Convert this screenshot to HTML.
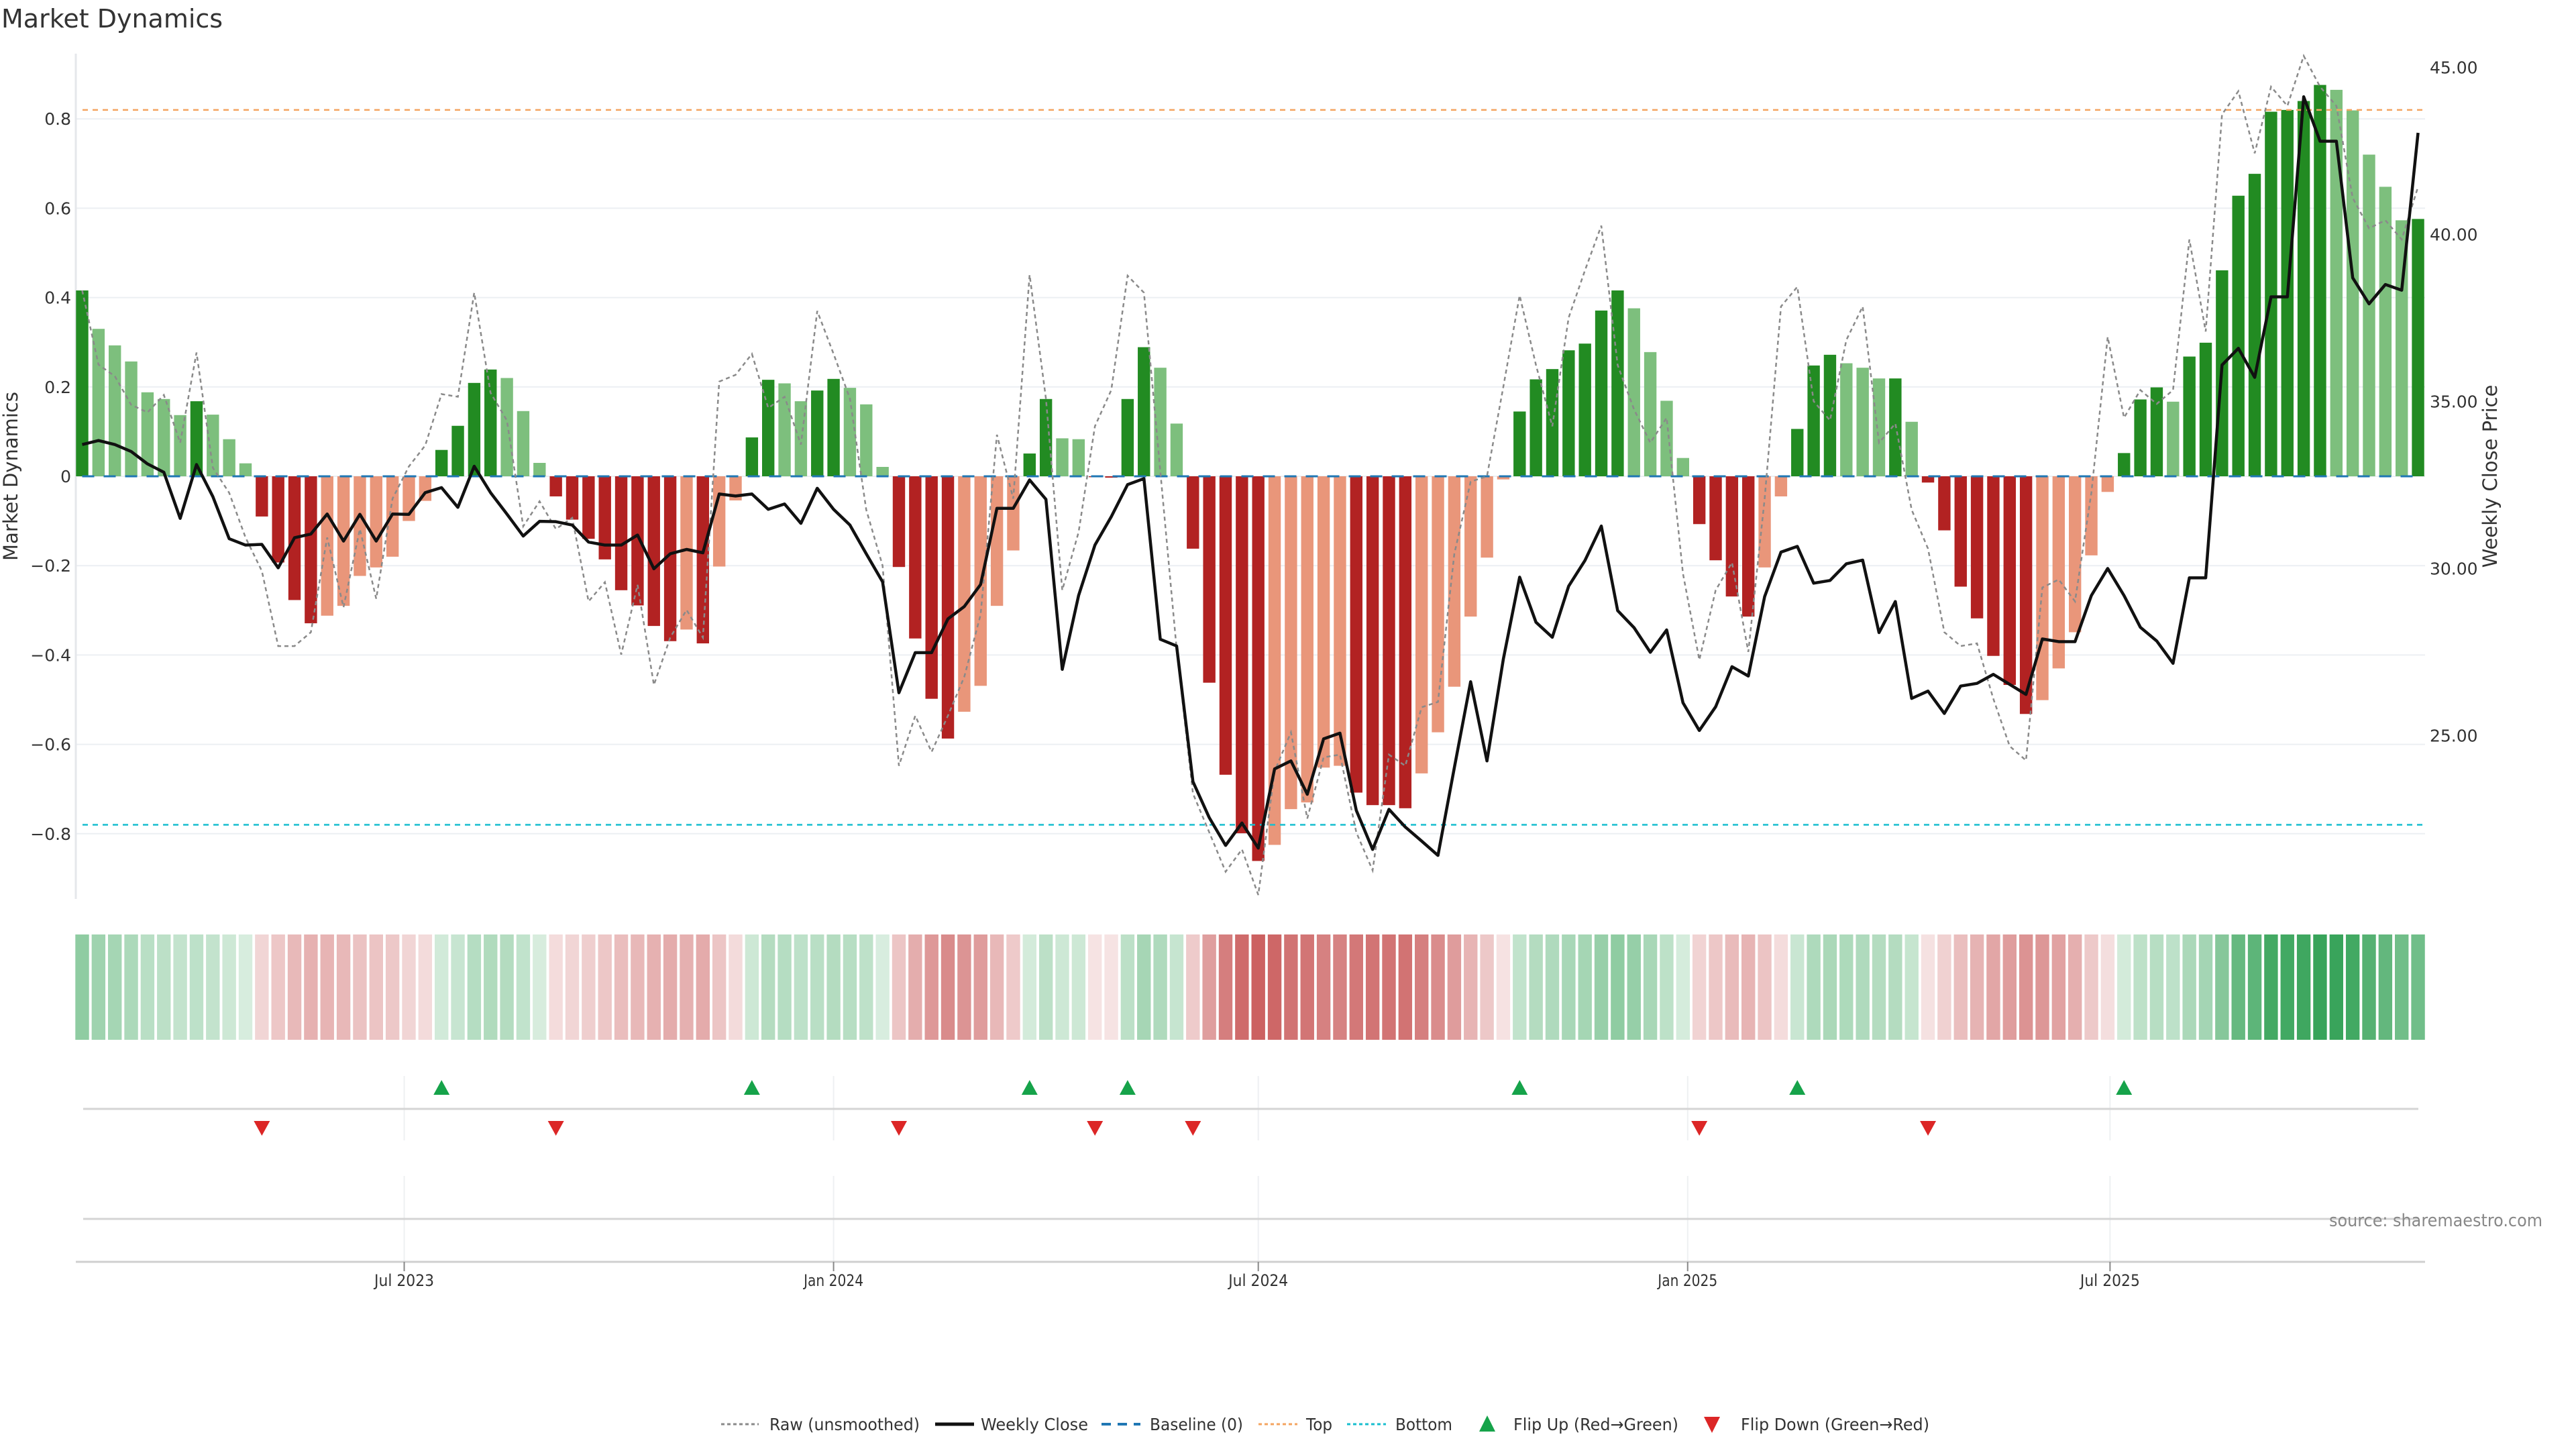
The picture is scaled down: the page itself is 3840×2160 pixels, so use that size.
<!DOCTYPE html>
<html><head><meta charset="utf-8"><style>
html,body{margin:0;padding:0;background:#fff;}
svg{display:block;font-family:"DejaVu Sans","Liberation Sans",sans-serif;}
</style></head><body>
<svg id="chart" width="3840" height="2160" viewBox="0 0 3840 2160" xmlns="http://www.w3.org/2000/svg">
<text x="2" y="41" font-size="38" fill="#333">Market Dynamics</text>
<g id="grid"></g><g id="bars"></g><g id="lines"></g><g id="heat"></g><g id="flips"></g><g id="axes"></g><g id="legend"></g>
<text x="3472" y="1828" font-size="26" fill="#888" textLength="318" lengthAdjust="spacingAndGlyphs">source: sharemaestro.com</text>
</svg>
<script>
const momentum=[0.416,0.33,0.293,0.257,0.188,0.173,0.137,0.168,0.138,0.083,0.029,-0.09,-0.193,-0.277,-0.329,-0.312,-0.29,-0.223,-0.204,-0.18,-0.10,-0.055,0.059,0.113,0.209,0.239,0.22,0.146,0.03,-0.045,-0.097,-0.14,-0.186,-0.255,-0.289,-0.335,-0.369,-0.343,-0.374,-0.202,-0.054,0.087,0.216,0.208,0.168,0.192,0.218,0.198,0.161,0.021,-0.203,-0.363,-0.498,-0.587,-0.527,-0.469,-0.29,-0.166,0.051,0.173,0.085,0.083,-0.002,-0.003,0.173,0.289,0.243,0.118,-0.162,-0.462,-0.668,-0.799,-0.861,-0.825,-0.745,-0.73,-0.652,-0.648,-0.708,-0.736,-0.736,-0.743,-0.665,-0.573,-0.471,-0.314,-0.182,-0.007,0.145,0.217,0.24,0.282,0.297,0.371,0.416,0.376,0.278,0.169,0.041,-0.107,-0.188,-0.269,-0.314,-0.204,-0.045,0.106,0.248,0.272,0.253,0.243,0.219,0.219,0.122,-0.014,-0.121,-0.247,-0.318,-0.402,-0.467,-0.532,-0.501,-0.43,-0.349,-0.177,-0.035,0.052,0.172,0.199,0.167,0.268,0.299,0.461,0.628,0.677,0.816,0.82,0.84,0.876,0.865,0.819,0.72,0.648,0.573,0.576];
const rawValues=[0.416,0.25,0.224,0.16,0.143,0.182,0.075,0.277,0.019,-0.037,-0.137,-0.212,-0.38,-0.38,-0.349,-0.137,-0.293,-0.118,-0.274,-0.05,0.022,0.069,0.184,0.178,0.411,0.187,0.125,-0.112,-0.056,-0.118,-0.093,-0.28,-0.237,-0.399,-0.243,-0.467,-0.361,-0.299,-0.361,0.212,0.227,0.274,0.153,0.178,0.071,0.37,0.274,0.174,-0.075,-0.2,-0.648,-0.536,-0.617,-0.536,-0.449,-0.31,0.093,-0.05,0.451,0.174,-0.255,-0.125,0.112,0.193,0.449,0.411,0.012,-0.386,-0.71,-0.797,-0.885,-0.835,-0.937,-0.66,-0.573,-0.766,-0.629,-0.623,-0.797,-0.882,-0.623,-0.648,-0.517,-0.505,-0.174,-0.012,0,0.2,0.405,0.249,0.112,0.355,0.461,0.561,0.249,0.15,0.075,0.131,-0.218,-0.411,-0.255,-0.193,-0.393,-0.05,0.38,0.424,0.168,0.125,0.305,0.38,0.075,0.118,-0.075,-0.162,-0.349,-0.38,-0.374,-0.498,-0.604,-0.636,-0.249,-0.231,-0.28,-0.037,0.312,0.131,0.193,0.162,0.193,0.53,0.324,0.81,0.862,0.723,0.872,0.829,0.941,0.872,0.829,0.623,0.555,0.573,0.53,0.648];
const weeklyClose=[33.71,33.83,33.71,33.5,33.13,32.88,31.5,33.11,32.15,30.89,30.7,30.72,30.02,30.92,31.03,31.63,30.82,31.62,30.82,31.63,31.62,32.27,32.42,31.83,33.06,32.27,31.63,30.97,31.41,31.4,31.3,30.79,30.7,30.7,31.0,29.99,30.44,30.57,30.47,32.23,32.17,32.23,31.77,31.93,31.35,32.4,31.77,31.3,30.44,29.6,26.28,27.48,27.48,28.49,28.86,29.52,31.8,31.8,32.65,32.07,26.98,29.19,30.7,31.55,32.51,32.69,27.88,27.68,23.62,22.54,21.71,22.38,21.63,24.0,24.24,23.24,24.9,25.07,22.76,21.59,22.79,22.26,21.84,21.41,24.03,26.61,24.24,27.28,29.74,28.39,27.94,29.47,30.24,31.27,28.74,28.23,27.49,28.16,25.98,25.15,25.86,27.06,26.78,29.16,30.49,30.66,29.56,29.64,30.14,30.25,28.08,29.01,26.11,26.33,25.66,26.48,26.56,26.83,26.53,26.23,27.89,27.81,27.81,29.19,30.0,29.19,28.24,27.83,27.16,29.72,29.72,36.09,36.59,35.72,38.13,38.13,44.12,42.79,42.79,38.7,37.92,38.5,38.33,43.04];
const leftTicks=[-0.8,-0.6,-0.4,-0.2,0,0.2,0.4,0.6,0.8];
const leftTickLabels=["−0.8","−0.6","−0.4","−0.2","0","0.2","0.4","0.6","0.8"];
const rightTicks=[25,30,35,40,45];
const rightTickLabels=["25.00","30.00","35.00","40.00","45.00"];
const dateTicks=["2023-07-01","2024-01-01","2024-07-01","2025-01-01","2025-07-01"];
const dateTickLabels=["Jul 2023","Jan 2024","Jul 2024","Jan 2025","Jul 2025"];
const startDate="2023-02-13";
const topLevel=0.82, bottomLevel=-0.78;

const NS="http://www.w3.org/2000/svg";
const PL=113,PR=3615,X0=122.5,STEP=24.35;
function xi(i){return X0+i*STEP;}
function xDate(s){const d=(Date.parse(s)-Date.parse(startDate))/86400000;return X0+d/7*STEP;}
function yL(v){return 710-v*666;}
function yR(p){return 100.4+(45-p)*49.8;}
function mk(tag,attrs,parent){const e=document.createElementNS(NS,tag);for(const k in attrs)e.setAttribute(k,attrs[k]);parent.appendChild(e);return e;}
const G=id=>document.getElementById(id);

const grid=G('grid');
leftTicks.forEach((t,k)=>{
  const l=mk('line',{x1:PL,x2:PR,y1:yL(t),y2:yL(t),stroke:'#eceff3','stroke-width':2},grid);
  
  
  const tx=mk('text',{x:106,y:yL(t)+9,'text-anchor':'end','font-size':25,fill:'#333'},grid);
  tx.textContent=leftTickLabels[k];
  
  
});
rightTicks.forEach((t,k)=>{
  const tx=mk('text',{x:3622,y:yR(t)+9,'font-size':25,fill:'#333'},grid);
  tx.textContent=rightTickLabels[k];
  
  
});
const sp=mk('line',{x1:PL,x2:PL,y1:80,y2:1340,stroke:'#e5e7eb','stroke-width':3},grid);


const yl=mk('text',{x:0,y:0,'font-size':29,fill:'#333','text-anchor':'middle',transform:'translate(26,710) rotate(-90)'},grid);
yl.textContent='Market Dynamics';


const yr=mk('text',{x:0,y:0,'font-size':29,fill:'#333','text-anchor':'middle',transform:'translate(3722,710) rotate(-90)'},grid);
yr.textContent='Weekly Close Price';



const bars=G('bars');
momentum.forEach((v,i)=>{
  const prev=i>0?momentum[i-1]:0;
  const strong=i===0||Math.sign(v)!==Math.sign(prev)||Math.abs(v)>=Math.abs(prev);
  const fill=v>=0?(strong?'#228b22':'#7dbf7d'):(strong?'#b22222':'#e9967a');
  const y0=yL(0),y1=yL(v);
  const r=mk('rect',{x:xi(i)-9.2,width:18.4,y:Math.min(y0,y1),height:Math.max(Math.abs(y1-y0),0.5),fill:fill},bars);
  
  
});

const lines=G('lines');
const bl=mk('line',{x1:X0,x2:xi(momentum.length-1),y1:yL(0),y2:yL(0),stroke:'#1f77b4','stroke-width':3,'stroke-dasharray':'18 14'},lines);


const tl=mk('line',{x1:PL+10,x2:PR,y1:yL(topLevel),y2:yL(topLevel),stroke:'#f4a460','stroke-width':2.5,'stroke-dasharray':'8 7'},lines);


const btl=mk('line',{x1:PL+10,x2:PR,y1:yL(bottomLevel),y2:yL(bottomLevel),stroke:'#17becf','stroke-width':2.5,'stroke-dasharray':'8 7'},lines);


const rp=mk('path',{d:rawValues.map((v,i)=>(i?'L':'M')+xi(i)+' '+yL(v)).join(''),fill:'none',stroke:'#8a8a8a','stroke-width':2.5,'stroke-dasharray':'6 5'},lines);


const cp=mk('path',{d:weeklyClose.map((v,i)=>(i?'L':'M')+xi(i)+' '+yR(v)).join(''),fill:'none',stroke:'#111','stroke-width':4.5,'stroke-linejoin':'round'},lines);



const heat=G('heat');
const maxAbs=Math.max(...momentum.map(Math.abs));
momentum.forEach((v,i)=>{
  const a=0.15+0.72*Math.abs(v)/maxAbs;
  const fill=v>=0?`rgba(26,150,65,${a})`:`rgba(190,55,55,${a*0.92})`;
  const r=mk('rect',{x:xi(i)-10.2,width:20.4,y:1393,height:157,fill:fill},heat);
  
  
});

const flips=G('flips');
dateTicks.forEach(d=>{
  const x=xDate(d);
  const g1=mk('line',{x1:x,x2:x,y1:1604,y2:1700,stroke:'#eef0f2','stroke-width':2},flips);
  
  
  const g2=mk('line',{x1:x,x2:x,y1:1753,y2:1881,stroke:'#eef0f2','stroke-width':2},flips);
  
  
});
const fl=mk('line',{x1:124,x2:3605,y1:1653,y2:1653,stroke:'#d4d4d4','stroke-width':3},flips);


const fl2=mk('line',{x1:124,x2:3605,y1:1817,y2:1817,stroke:'#d4d4d4','stroke-width':3},flips);


momentum.forEach((v,i)=>{
  if(i===0)return;
  const p=momentum[i-1];
  const x=xi(i);
  if(p<0&&v>=0){
    const t=mk('path',{d:`M${x-12} 1632L${x+12} 1632L${x} 1610Z`,fill:'#16a34a'},flips);
    
    
  } else if(p>=0&&v<0){
    const t=mk('path',{d:`M${x-12} 1671L${x+12} 1671L${x} 1693Z`,fill:'#dc2626'},flips);
    
    
  }
});

const axes=G('axes');
const ax=mk('line',{x1:PL,x2:PR,y1:1881,y2:1881,stroke:'#cfcfcf','stroke-width':3},axes);


dateTicks.forEach((d,k)=>{
  const x=xDate(d);
  const tk=mk('line',{x1:x,x2:x,y1:1881,y2:1895,stroke:'#888','stroke-width':2},axes);
  
  
  const tx=mk('text',{x:x,y:1917,'text-anchor':'middle','font-size':24,fill:'#333',textLength:89,lengthAdjust:'spacingAndGlyphs'},axes);
  tx.textContent=dateTickLabels[k];
  
  
});

const lg=G('legend');
const LY=2123;
function ltext(x,w,s){const t=mk('text',{x:x,y:LY+9,'font-size':25,fill:'#333',textLength:w,lengthAdjust:'spacingAndGlyphs'},lg);t.textContent=s;}
function lline(x1,x2,attrs,name){const l=mk('line',Object.assign({x1:x1,x2:x2,y1:LY,y2:LY},attrs),lg);}
lline(1075,1131,{stroke:'#8a8a8a','stroke-width':3,'stroke-dasharray':'5 4'},'legend-raw');
ltext(1147,224,'Raw (unsmoothed)');
lline(1394,1452,{stroke:'#111','stroke-width':5},'legend-weekly-close');
ltext(1462,160,'Weekly Close');
lline(1642,1700,{stroke:'#1f77b4','stroke-width':4,'stroke-dasharray':'14 10'},'legend-baseline');
ltext(1714,139,'Baseline (0)');
lline(1876,1934,{stroke:'#f4a460','stroke-width':3,'stroke-dasharray':'5 4'},'legend-top');
ltext(1947,39,'Top');
lline(2008,2066,{stroke:'#17becf','stroke-width':3,'stroke-dasharray':'5 4'},'legend-bottom');
ltext(2080,85,'Bottom');
const lu=mk('path',{d:`M2205 ${LY+11}L2229 ${LY+11}L2217 ${LY-13}Z`,fill:'#16a34a'},lg);


ltext(2256,246,'Flip Up (Red→Green)');
const ld=mk('path',{d:`M2540 ${LY-11}L2564 ${LY-11}L2552 ${LY+13}Z`,fill:'#dc2626'},lg);


ltext(2595,281,'Flip Down (Green→Red)');
</script>
</body></html>
